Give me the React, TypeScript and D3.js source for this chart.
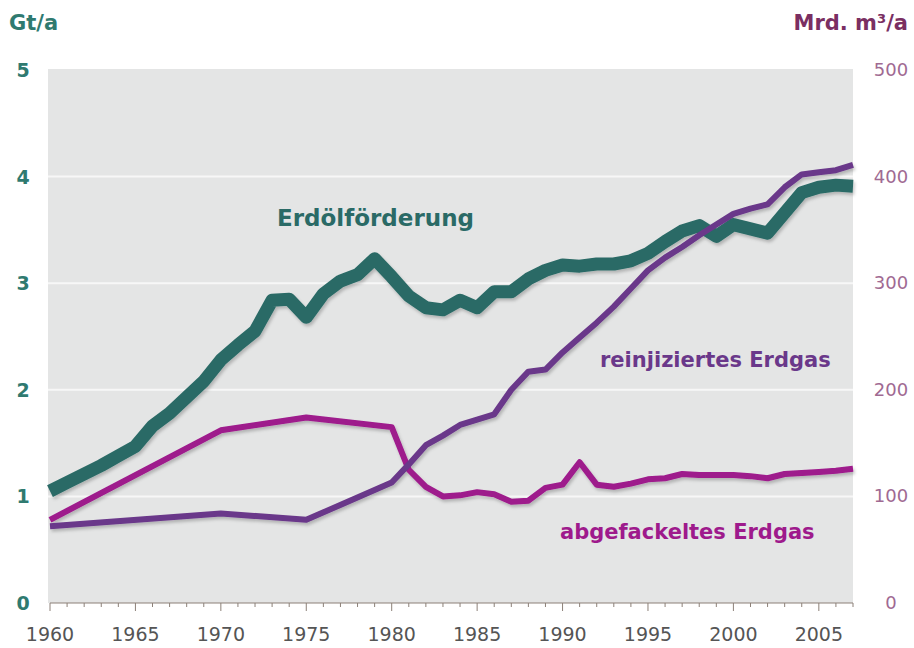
import React from "react";
import * as d3 from "d3";

const oilYears = d3.range(1960, 2008);
const oilValues = [
  1.05, 1.13, 1.21, 1.29, 1.38, 1.47, 1.66, 1.78, 1.93, 2.08,
  2.28, 2.42, 2.55, 2.84, 2.85, 2.68, 2.9, 3.02, 3.08, 3.23,
  3.06, 2.88, 2.77, 2.75, 2.84, 2.77, 2.92, 2.92, 3.04, 3.12,
  3.17, 3.16, 3.18, 3.18, 3.21, 3.28, 3.39, 3.49, 3.54, 3.44,
  3.55, 3.51, 3.47, 3.66, 3.85, 3.9, 3.92, 3.91,
];

const gasYears = [1960, 1970, 1975, ...d3.range(1980, 2008)];
const reinjectedValues = [
  72, 84, 78,
  113, 130, 148, 157, 167, 172, 177, 200, 217, 219,
  235, 249, 263, 278, 295, 312, 324, 334, 345, 355,
  365, 370, 374, 390, 402, 404, 406, 411,
];
const flaredValues = [
  78, 162, 174,
  165, 125, 109, 100, 101, 104, 102, 95, 96, 108,
  111, 132, 111, 109, 112, 116, 117, 121, 120, 120,
  120, 119, 117, 121, 122, 123, 124, 126,
];

const leftTicks = [0, 1, 2, 3, 4, 5];
const rightTicks = [0, 100, 200, 300, 400, 500];
const yearTicks = [1960, 1965, 1970, 1975, 1980, 1985, 1990, 1995, 2000, 2005];

const W = 914;
const H = 648;
const x0 = 50;
const x1 = 853;
const yTop = 70;
const yBot = 603;

const FONT = "Verdana, 'DejaVu Sans', sans-serif";

export default function App() {
  const x = d3.scaleLinear().domain([1960, 2007]).range([x0, x1]);
  const yL = d3.scaleLinear().domain([0, 5]).range([yBot, yTop]);
  const yR = d3.scaleLinear().domain([0, 500]).range([yBot, yTop]);

  const oilLine = d3
    .line<number>()
    .x((_, i) => x(oilYears[i]))
    .y((d) => yL(d));
  const gasLine = d3
    .line<number>()
    .x((_, i) => x(gasYears[i]))
    .y((d) => yR(d));

  const allYears = d3.range(1960, 2008);

  return (
    <svg
      width={W}
      height={H}
      style={{ position: "absolute", left: 0, top: 0, background: "#fff" }}
    >
      <defs>
        <filter id="sh" x="-5%" y="-5%" width="110%" height="120%">
          <feDropShadow dx="1.5" dy="2.5" stdDeviation="1.5" floodColor="#000" floodOpacity="0.22" />
        </filter>
      </defs>
      <rect x={x0 - 2} y={yTop - 1} width={x1 - x0 + 2} height={yBot - yTop + 1} fill="#e4e5e5" />
      {leftTicks.slice(1, 5).map((t) => (
        <line key={t} x1={x0 - 2} x2={x1} y1={yL(t)} y2={yL(t)} stroke="#f7f7f7" strokeWidth={2} />
      ))}

      {/* axis */}
      <line x1={x0} x2={x1} y1={yBot} y2={yBot} stroke="#8c8078" strokeWidth={1.2} />
      {allYears.map((yr) => (
        <line
          key={yr}
          x1={x(yr)}
          x2={x(yr)}
          y1={yBot}
          y2={yBot + (yr % 5 === 0 ? 8 : 4)}
          stroke="#8c8078"
          strokeWidth={1}
        />
      ))}
      {yearTicks.map((yr) => (
        <text
          key={yr}
          x={x(yr)}
          y={yBot + 38}
          textAnchor="middle"
          fontFamily={FONT}
          fontSize={19}
          fill="#555"
        >
          {yr}
        </text>
      ))}

      {/* left ticks */}
      {leftTicks.map((t) => (
        <text
          key={t}
          x={23}
          y={yL(t) + 7}
          textAnchor="middle"
          fontFamily={FONT}
          fontWeight="bold"
          fontSize={19}
          fill="#2f7a70"
        >
          {t}
        </text>
      ))}
      {rightTicks.map((t) => (
        <text
          key={t}
          x={891}
          y={yR(t) + 6}
          textAnchor="middle"
          fontFamily={FONT}
          fontSize={18}
          fill="#a06a92"
        >
          {t}
        </text>
      ))}

      <text x={9} y={30} fontFamily={FONT} fontWeight="bold" fontSize={21} fill="#2f7a70">
        Gt/a
      </text>
      <text x={908} y={30} textAnchor="end" fontFamily={FONT} fontWeight="bold" fontSize={21} fill="#7a2f62">
        Mrd. m³/a
      </text>

      {/* lines */}
      <g filter="url(#sh)" fill="none" strokeLinejoin="round">
        <path d={oilLine(oilValues) || ""} stroke="#2a6a66" strokeWidth={13} />
        <path d={gasLine(flaredValues) || ""} stroke="#9e1a8c" strokeWidth={6} />
        <path d={gasLine(reinjectedValues) || ""} stroke="#6a388a" strokeWidth={6} />
      </g>

      <text x={277} y={226} fontFamily={FONT} fontWeight="bold" fontSize={23} fill="#2a6a66">
        Erdölförderung
      </text>
      <text x={600} y={367} fontFamily={FONT} fontWeight="bold" fontSize={21} fill="#6a388a">
        reinjiziertes Erdgas
      </text>
      <text x={560} y={539} fontFamily={FONT} fontWeight="bold" fontSize={21} fill="#9e1a8c">
        abgefackeltes Erdgas
      </text>
    </svg>
  );
}
